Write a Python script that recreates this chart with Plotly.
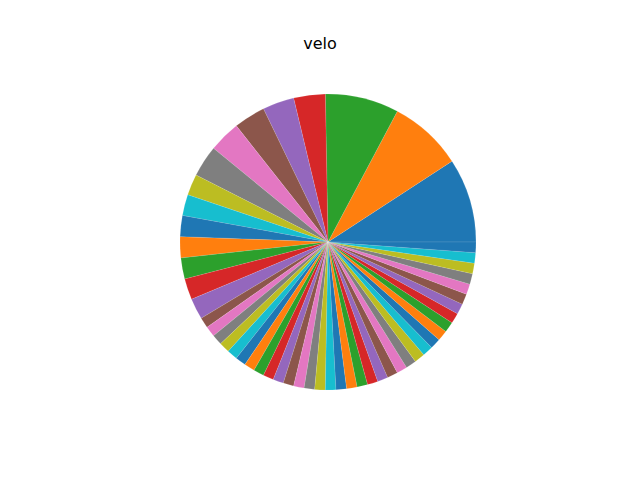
import plotly.graph_objects as go

# slice values (counterclockwise from 3 o'clock)
values = [8, 7, 7, 3, 3, 3, 3, 3, 2, 2, 2, 2, 2, 2, 2] + [1] * 36
labels = [f"c{i + 1}" for i in range(len(values))]
palette = ["#1f77b4", "#ff7f0e", "#2ca02c", "#d62728", "#9467bd",
           "#8c564b", "#e377c2", "#7f7f7f", "#bcbd22", "#17becf"]
colors = [palette[i % 10] for i in range(len(values))]

# plotly places the first counterclockwise slice ending at the rotation angle,
# so shift by the first slice's share to start it at 3 o'clock
first_share = 360 * values[0] / sum(values)

fig = go.Figure(go.Pie(
    labels=labels,
    values=values,
    sort=False,
    direction="counterclockwise",
    rotation=90 - first_share,
    textinfo="none",
    hoverinfo="label+value",
    marker=dict(colors=colors, line=dict(width=0.3, color="rgba(255,255,255,0.35)")),
    domain=dict(x=[180 / 640, 476 / 640], y=[1 - 390 / 480, 1 - 94 / 480]),
    showlegend=False,
))

fig.update_layout(
    width=640, height=480,
    margin=dict(l=0, r=0, t=0, b=0),
    paper_bgcolor="white", plot_bgcolor="white",
    title=dict(text="velo", x=0.5, xanchor="center", y=1 - 43 / 480, yanchor="middle",
               yref="container", font=dict(family="DejaVu Sans", size=16, color="black")),
)

fig.write_html("out.html", config={"displayModeBar": False},
               post_script="document.body.style.margin='0';")
